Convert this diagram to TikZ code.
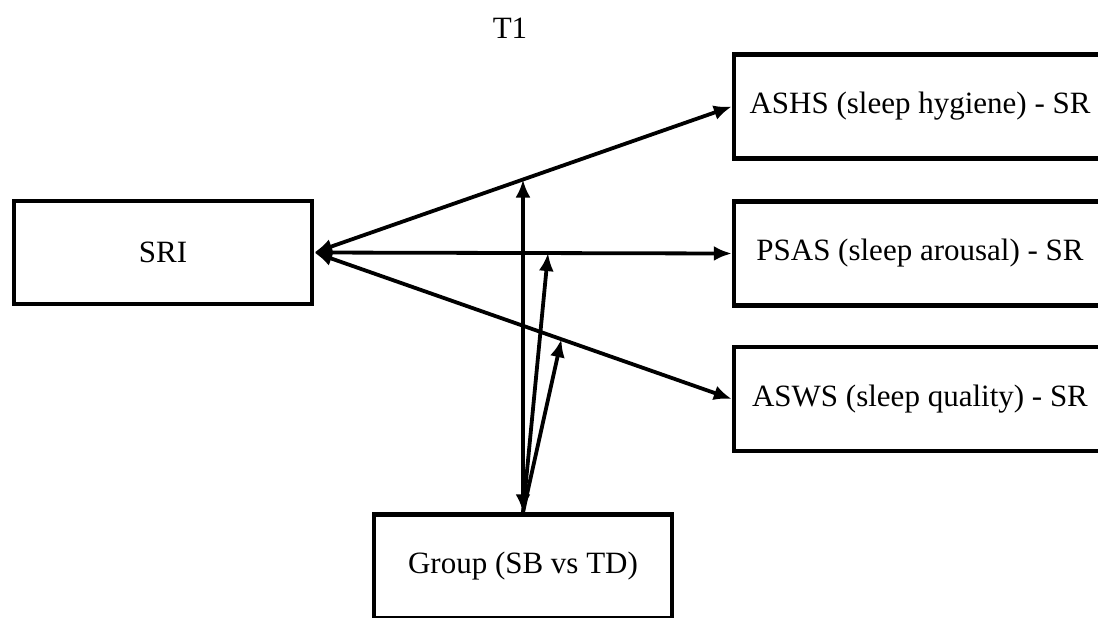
\documentclass[tikz,border=0pt]{standalone}
\usepackage{fontspec}
\setmainfont{Liberation Serif}
\usetikzlibrary{arrows.meta}

\begin{document}
\begin{tikzpicture}[x=0.5pt,y=-0.5pt,
    font=\fontsize{15.5}{18}\selectfont,
    varbox/.style={draw,line width=2.2pt,inner sep=0pt},
    leftbox/.style={varbox,minimum width=149pt,minimum height=51.5pt},
    rightbox/.style={varbox,minimum width=186pt,minimum height=52pt},
    >={Latex[length=9pt,width=7.5pt]}]
  \clip (0,0) rectangle (1098,617);
  \path
    (510,38) node[anchor=base] (t1){T1}
    (163,252.5) node[leftbox] (sri){SRI}
    (920,106.5) node[rightbox] (ashs){ASHS (sleep hygiene) - SR}
    (920,253.5) node[rightbox] (psas){PSAS (sleep arousal) - SR}
    (920,399) node[rightbox] (asws){ASWS (sleep quality) - SR}
    (523,566.5) node[leftbox,minimum height=52pt] (group){Group (SB vs TD)};
  \begin{scope}[line width=1.9pt]
    \draw[<->] (sri.east) -- coordinate[pos=0.5] (m1) (ashs.west);
    \draw[<->] (sri.east) -- coordinate[pos=0.56] (m2) (psas.west);
    \draw[<->] (sri.east) -- coordinate[pos=0.592] (m3) (asws.west);
    \draw[<->] (group.north) -- (m1);
    \draw[->] (group.north) -- (m2);
    \draw[->] (group.north) -- (m3);
  \end{scope}
\end{tikzpicture}
\end{document}
